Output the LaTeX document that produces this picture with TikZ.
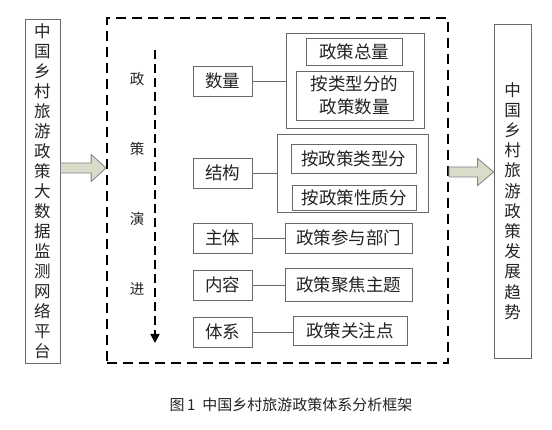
\documentclass[tikz,border=0pt]{standalone}
\usepackage{fontspec}
\newfontfamily\cjk{Noto Sans CJK SC}
\usetikzlibrary{calc,arrows.meta}
\definecolor{bd}{RGB}{105,105,105}
\definecolor{tx}{RGB}{35,35,35}
\definecolor{afill}{RGB}{216,220,200}
\definecolor{aline}{RGB}{130,130,130}
\tikzset{
  box/.style={draw=bd, line width=0.8pt, inner sep=0pt, text=tx, font=\cjk\fontsize{17.5}{20}\selectfont},
  plain/.style={draw=none, inner sep=0pt, text=tx},
  conn/.style={draw=bd, line width=0.8pt},
  fat/.style={draw=aline, fill=afill, line width=0.8pt, line join=miter},
  dframe/.style={draw=black, line width=1.8pt, dash pattern=on 10pt off 6pt},
}
\begin{document}
\begin{tikzpicture}[x=1pt,y=-1pt]
\useasboundingbox (0,0) rectangle (552,430);
% side boxes
\node[box, minimum width=35, minimum height=344] (left) at (42.5,191) {};
\node[plain, align=center, font=\cjk\fontsize{16.5}{20}\selectfont] (lefttxt) at (42.5,191)
  {中\\国\\乡\\村\\旅\\游\\政\\策\\大\\数\\据\\监\\测\\网\\络\\平\\台};
\node[box, minimum width=37, minimum height=334] (right) at (512.5,191) {};
\node[plain, align=center, font=\cjk\fontsize{16.5}{20.2}\selectfont] (righttxt) at (512.5,201)
  {中\\国\\乡\\村\\旅\\游\\政\\策\\发\\展\\趋\\势};
% dashed frame
\node[dframe, minimum width=341, minimum height=345, inner sep=0pt] (frame) at (277.5,190.5) {};
% evolution arrow
\coordinate (evtop) at (155,50);
\coordinate (evbot) at (155,343);
\draw[line width=1.8pt, dash pattern=on 9pt off 5pt, -{Triangle[length=9pt,width=9pt]}] (evtop) -- (evbot);
\node[plain, align=center, font=\cjk\fontsize{14.5}{70}\selectfont] (evtxt) at (137,184) {政\\策\\演\\进};
% left column boxes
\node[box, minimum width=59, minimum height=30] (sl) at (222.5,81) {数量};
\node[box, minimum width=59, minimum height=30] (jg) at (222.5,173) {结构};
\node[box, minimum width=59, minimum height=30] (zt) at (222.5,238) {主体};
\node[box, minimum width=59, minimum height=30] (nr) at (222.5,285) {内容};
\node[box, minimum width=59, minimum height=30] (tx) at (222.5,332) {体系};
% group 1
\node[box, minimum width=138, minimum height=95] (g1) at (355,80.5) {};
\node[box, minimum width=96, minimum height=27] (zl) at (354,51.5) {政策总量};
\node[box, minimum width=117, minimum height=49, align=center, font=\cjk\fontsize{17.5}{23}\selectfont] (alx) at (354.5,95.5) {按类型分的\\政策数量};
% group 2
\node[box, minimum width=151, minimum height=78] (g2) at (352.5,173) {};
\node[box, minimum width=125, minimum height=29] (lxf) at (353.5,158.5) {按政策类型分};
\node[box, minimum width=124, minimum height=25] (xzf) at (354,197.5) {按政策性质分};
% single boxes
\node[box, minimum width=127, minimum height=30] (cy) at (348.5,238) {政策参与部门};
\node[box, minimum width=127, minimum height=33] (jj) at (348.5,284.5) {政策聚焦主题};
\node[box, minimum width=114, minimum height=29] (gz) at (350,330.5) {政策关注点};
% connectors
\draw[conn] (sl.east) -- (sl.east -| g1.west);
\draw[conn] (jg.east) -- (jg.east -| g2.west);
\draw[conn] (zt.east) -- (zt.east -| cy.west);
\draw[conn] (nr.east) -- (nr.east -| jj.west);
\draw[conn] (tx.east) -- (tx.east -| gz.west);
% fat arrows
\coordinate (la) at (left.east |- 0,168);
\coordinate (lb) at (frame.west |- 0,168);
\draw[fat] ($(la)+(0,-5)$) -- ($(lb)+(-15,-5)$) -- ($(lb)+(-15,-13.5)$) -- (lb)
  -- ($(lb)+(-15,13.5)$) -- ($(lb)+(-15,5)$) -- ($(la)+(0,5)$) -- cycle;
\coordinate (ra) at (frame.east |- 0,172);
\coordinate (rb) at (right.west |- 0,172);
\draw[fat] ($(ra)+(0,-5)$) -- ($(rb)+(-16,-5)$) -- ($(rb)+(-16,-13.5)$) -- (rb)
  -- ($(rb)+(-16,13.5)$) -- ($(rb)+(-16,5)$) -- ($(ra)+(0,5)$) -- cycle;
% caption
\node[plain, font=\cjk\fontsize{15}{17}\selectfont] (cap) at (291,405) {图\,1\ \ 中国乡村旅游政策体系分析框架};
\end{tikzpicture}
\end{document}
